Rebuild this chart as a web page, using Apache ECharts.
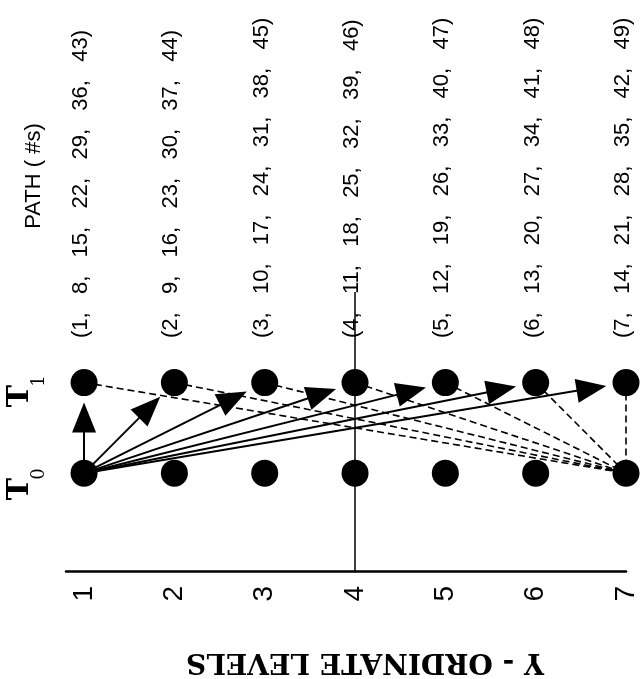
<!DOCTYPE html>
<html><head><meta charset="utf-8">
<script src="https://cdn.jsdelivr.net/npm/echarts@6/dist/echarts.min.js"></script>
<style>html,body{margin:0;padding:0;background:#fff}#c{width:640px;height:679px}</style>
</head><body><div id="c"></div>
<script>
// ---- data ----
const levels = [1, 2, 3, 4, 5, 6, 7];
const tickLabels = ['1', '2', '3', '4', '5', '6', '7'];
const timeRowValues = [1, 2];           // T0 row, T1 row
const pathNumbers = [
  [1, 8, 15, 22, 29, 36, 43],
  [2, 9, 16, 23, 30, 37, 44],
  [3, 10, 17, 24, 31, 38, 45],
  [4, 11, 18, 25, 32, 39, 46],
  [5, 12, 19, 26, 33, 40, 47],
  [6, 13, 20, 27, 34, 41, 48],
  [7, 14, 21, 28, 35, 42, 49]
];
const sourceLevel = 1;   // solid arrows start at T0, level 1
const sinkLevel = 7;     // dashed lines end at T0, level 7
const splitLevel = 4;    // vertical reference line
const axisTitle = 'Y - ORDINATE LEVELS';
const pathTitle = 'PATH ( #s)';

// ---- build ----
const sep = ',   ';
function pathText(arr) { return '(' + arr.join(sep) + ')'; }

const nodes = [];
levels.forEach((L, i) => {
  nodes.push({ name: 'T0-' + L, value: [L, timeRowValues[0]] });
  nodes.push({
    name: 'T1-' + L, value: [L, timeRowValues[1]],
    label: {
      show: true, position: 'top', rotate: 90, align: 'left', verticalAlign: 'middle',
      distance: 31, offset: [0, -3], formatter: pathText(pathNumbers[i]),
      fontSize: 22, fontFamily: 'Liberation Sans', color: '#000'
    }
  });
  // invisible halo nodes used as arrow targets (arrowheads stop short of the dots)
  nodes.push({ name: 'H-' + L, value: [L, timeRowValues[1]], symbolSize: 70,
    itemStyle: { opacity: 0 }, label: { show: false } });
});

const links = [];
levels.forEach(L => {
  links.push({ source: 'T0-' + sourceLevel, target: 'H-' + L,
    symbol: ['none', 'triangle'], symbolSize: [0, [24, 30]],
    lineStyle: { type: 'solid', width: 2, color: '#000', opacity: 1 } });
});
levels.forEach(L => {
  links.push({ source: 'T1-' + L, target: 'T0-' + sinkLevel,
    symbol: ['none', 'none'],
    lineStyle: { type: [7, 4], width: 1.6, color: '#000', opacity: 1 } });
});

const chart = echarts.init(document.getElementById('c'), null, { renderer: 'canvas' });
chart.setOption({
  animation: false,
  backgroundColor: '#fff',
  grid: { left: 66, right: 11, top: 292, bottom: 108, containLabel: false },
  xAxis: {
    type: 'value', min: 0.8, max: 7,
    axisLine: { show: true, onZero: false, lineStyle: { color: '#000', width: 2.5 } },
    axisTick: { show: false }, splitLine: { show: false },
    axisLabel: {
      customValues: levels, rotate: 90, margin: 15,
      formatter: v => tickLabels[levels.indexOf(v)],
      fontSize: 28, fontFamily: 'Liberation Sans', color: '#000'
    }
  },
  yAxis: { type: 'value', min: -0.08, max: 3, show: false },
  graphic: [
    { type: 'text', x: 34, y: 176, rotation: Math.PI / 2,
      style: { text: pathTitle, fontSize: 22, fontFamily: 'Liberation Sans', fill: '#000', align: 'center', verticalAlign: 'middle' } },
    { type: 'text', x: 365, y: 661, rotation: Math.PI,
      style: { text: axisTitle, fontSize: 28, fontWeight: 'bold', fontFamily: 'DejaVu Serif', fill: '#000', align: 'center', verticalAlign: 'middle' } },
    { type: 'text', x: 20, y: 489, rotation: Math.PI / 2,
      style: { text: 'T', fontSize: 30, fontWeight: 'bold', fontFamily: 'DejaVu Serif', fill: '#000', align: 'center', verticalAlign: 'middle' } },
    { type: 'text', x: 39, y: 474, rotation: Math.PI / 2,
      style: { text: '0', fontSize: 18, fontFamily: 'DejaVu Serif', fill: '#000', align: 'center', verticalAlign: 'middle' } },
    { type: 'text', x: 20, y: 396, rotation: Math.PI / 2,
      style: { text: 'T', fontSize: 30, fontWeight: 'bold', fontFamily: 'DejaVu Serif', fill: '#000', align: 'center', verticalAlign: 'middle' } },
    { type: 'text', x: 39, y: 381, rotation: Math.PI / 2,
      style: { text: '1', fontSize: 18, fontFamily: 'DejaVu Serif', fill: '#000', align: 'center', verticalAlign: 'middle' } }
  ],
  series: [
    {
      type: 'line', data: [], silent: true,
      markLine: {
        silent: true, symbol: ['none', 'none'], label: { show: false },
        lineStyle: { color: '#000', width: 1.5, type: 'solid' },
        data: [{ xAxis: splitLevel }]
      }
    },
    {
      type: 'graph', coordinateSystem: 'cartesian2d', layout: 'none',
      symbol: 'circle', symbolSize: 27,
      itemStyle: { color: '#000' },
      edgeSymbol: ['none', 'none'], edgeSymbolSize: [0, [24, 30]],
      lineStyle: { color: '#000', opacity: 1, width: 2 },
      emphasis: { disabled: true },
      data: nodes, links: links
    }
  ]
});
</script></body></html>
